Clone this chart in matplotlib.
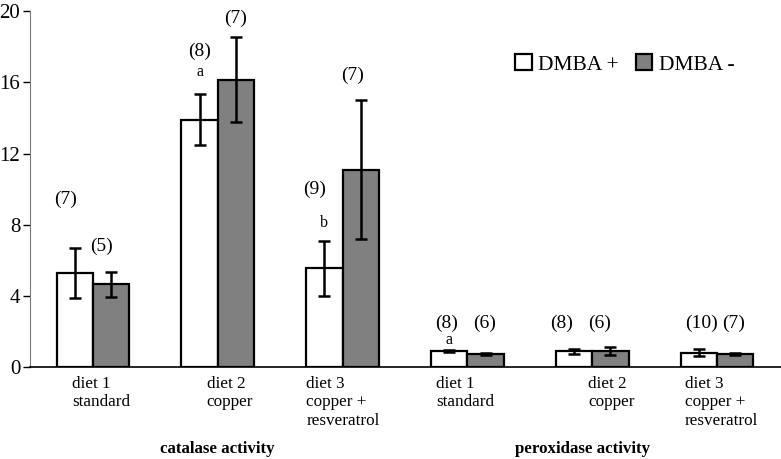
import matplotlib.pyplot as plt
import numpy as np

plt.rcParams['font.family'] = ['Liberation Serif', 'DejaVu Serif']

# catalase (groups 1-3) and peroxidase (groups 4-6)
groups = ["diet 1\nstandard", "diet 2\ncopper", "diet 3\ncopper +\nresveratrol",
          "diet 1\nstandard", "diet 2\ncopper", "diet 3\ncopper +\nresveratrol"]
dmba_pos = [5.3, 13.9, 5.55, 0.9, 0.88, 0.8]
dmba_pos_err = [1.4, 1.43, 1.55, 0.08, 0.15, 0.2]
dmba_neg = [4.65, 16.15, 11.1, 0.72, 0.9, 0.72]
dmba_neg_err = [0.7, 2.4, 3.9, 0.06, 0.2, 0.06]
n_pos = ["(7)", "(8)", "(9)", "(8)", "(8)", "(10)"]
n_neg = ["(5)", "(7)", "(7)", "(6)", "(6)", "(7)"]
letters_pos = ["", "a", "b", "a", "", ""]

# where the sample-size labels sit (data units)
n_pos_y = [9.4, 17.75, 10.0, 2.45, 2.45, 2.45]
n_neg_y = [6.8, 19.6, 16.4, 2.45, 2.45, 2.45]
letter_y = [0, 16.6, 8.1, 1.5, 0, 0]
n_pos_dx = [-7, 0, -7, -2, -9, 2]
n_neg_dx = [-7, 0, -6, -1, -8, -1]

fig = plt.figure(figsize=(7.81, 4.59), dpi=100)
ax = fig.add_axes([0.0384, 0.2004, 0.9616, 0.775])

x = np.arange(len(groups))
w = 0.292
ekw = dict(elinewidth=1.8, capthick=1.8, ecolor='black')
ax.bar(x - w / 2, dmba_pos, w, yerr=dmba_pos_err, color='white', edgecolor='black',
       linewidth=1.6, capsize=4, error_kw=ekw, label='DMBA +')
ax.bar(x + w / 2, dmba_neg, w, yerr=dmba_neg_err, color='#808080', edgecolor='black',
       linewidth=1.6, capsize=4, error_kw=ekw, label='DMBA -')

for i in range(len(groups)):
    ax.annotate(n_pos[i], (x[i] - w / 2, n_pos_y[i]), xytext=(n_pos_dx[i], 0),
                textcoords='offset points', ha='center', va='center', fontsize=14)
    ax.annotate(n_neg[i], (x[i] + w / 2, n_neg_y[i]), xytext=(n_neg_dx[i], 0),
                textcoords='offset points', ha='center', va='center', fontsize=14)
    if letters_pos[i]:
        ax.annotate(letters_pos[i], (x[i] - w / 2, letter_y[i]), xytext=(0, 0),
                    textcoords='offset points', ha='center', va='center', fontsize=11.5)

# category labels, left aligned under the groups
label_dx = [-0.17, -0.09, -0.29, -0.25, -0.03, -0.26]
for i, g in enumerate(groups):
    ax.text(x[i] + label_dx[i], -0.5, g, ha='left', va='top', fontsize=12.3,
            linespacing=1.2)

ax.text(1.0, -4.6, "catalase activity", ha='center', va='center', fontsize=12.2,
        fontweight='bold')
ax.text(3.92, -4.6, "peroxidase activity", ha='center', va='center', fontsize=12.2,
        fontweight='bold')

ax.set_xlim(-0.505, 5.513)
ax.set_ylim(0, 20)
ax.set_yticks([0, 4, 8, 12, 16, 20])
ax.set_xticks([])
ax.tick_params(axis='y', labelsize=15, length=5, width=1, colors='black', pad=2)
ax.spines['top'].set_visible(False)
ax.spines['right'].set_visible(False)
ax.spines['left'].set_color('#777777')
ax.spines['bottom'].set_linewidth(1.2)

ax.legend(loc='center left', bbox_to_anchor=(0.635, 0.85), ncol=2, frameon=False,
          fontsize=15.5, handlelength=0.75, handleheight=0.75, handletextpad=0.3,
          columnspacing=0.8, borderaxespad=0)

fig.savefig('out.png', dpi=100)
